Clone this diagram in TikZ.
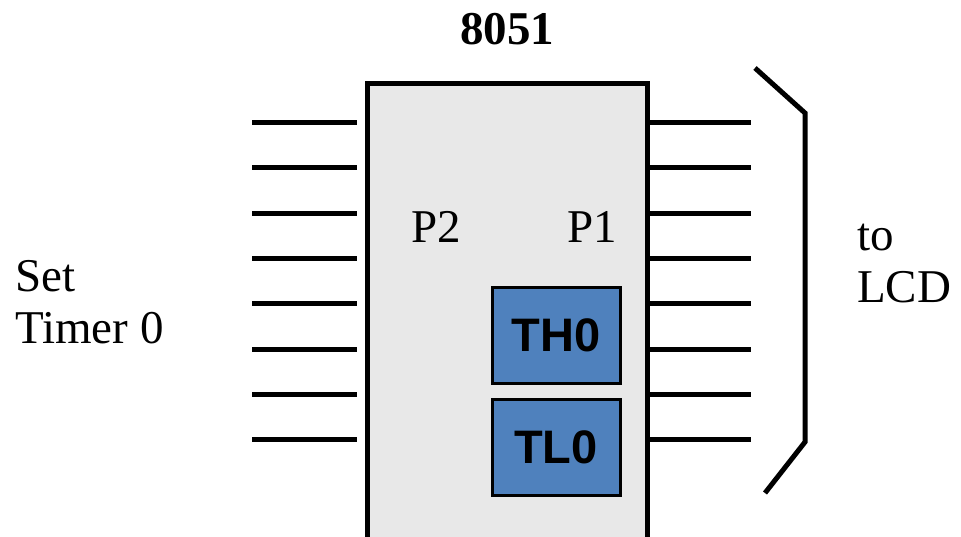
\documentclass[tikz,border=0pt]{standalone}
\usepackage{fontspec}
\setmainfont{Liberation Serif}
\newfontfamily\arialfont{Liberation Sans}
\definecolor{chipgray}{HTML}{E8E8E8}
\definecolor{regblue}{HTML}{4F81BD}
\begin{document}
\begin{tikzpicture}[x=1pt,y=-1pt,
  pin/.style={line width=5pt},
  chipbox/.style={draw=black,line width=5pt,fill=chipgray,minimum width=280pt,minimum height=520pt,inner sep=0pt,outer sep=0pt},
  regbox/.style={draw=black,line width=3pt,fill=regblue,minimum width=128pt,minimum height=96pt,inner sep=0pt,font=\arialfont\bfseries\fontsize{47}{47}\selectfont},
  lbl/.style={font=\fontsize{47}{52}\selectfont,inner sep=0pt,align=left}]
\useasboundingbox (0,0) rectangle (961,536);
\clip (0,0) rectangle (961,536);
\node[chipbox,anchor=north west] (chip) at (367,83) {};
% pins
\foreach \i/\y in {1/122,2/167,3/213,4/258,5/303,6/349,7/394,8/439}{
  \coordinate (l\i) at (252,\y);
  \coordinate (le\i) at (357,\y);
  \coordinate (r\i) at (751,\y);
  \draw[pin] (l\i) -- (le\i);
  \draw[pin] (chip.east |- r\i) -- (r\i);
}
% registers
\node[regbox] (th0) at (556,335.5) {TH0};
\node[regbox] (tl0) at (556,447.5) {TL0};
% labels
\node[lbl,anchor=base west] (p2) at (411,242) {P2};
\node[lbl,anchor=base east] (p1) at (617,242) {P1};
\node[font=\bfseries\fontsize{47}{47}\selectfont,inner sep=0pt,anchor=base] (title) at (507,44) {8051};
\node[lbl,anchor=base west] (set) at (15,343) {Set\\Timer 0};
\node[lbl,anchor=base west] (lcd) at (857,302) {to\\LCD};
% bracket
\coordinate (b1) at (755,68);
\coordinate (b2) at (805,113);
\coordinate (b3) at (805,442);
\coordinate (b4) at (765,493);
\draw[line width=5pt] (b1) -- (b2) -- (b3) -- (b4);
\end{tikzpicture}
\end{document}
